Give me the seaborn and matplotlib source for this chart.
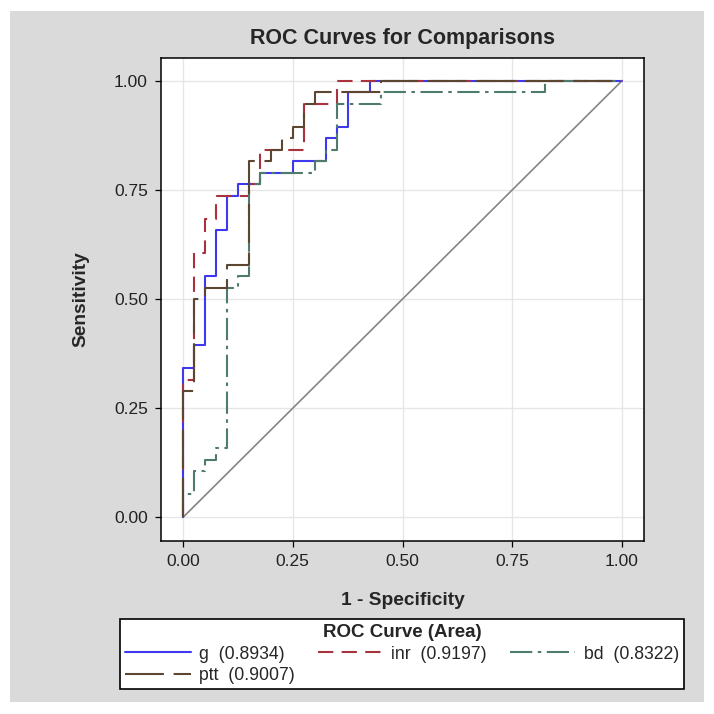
"""ROC curves for the four comparisons (g, inr, bd, ptt)"""

import matplotlib

matplotlib.use("Agg")
import matplotlib.pyplot as plt
from matplotlib.lines import Line2D
from matplotlib.patches import Rectangle
import numpy as np
import seaborn as sns

# sample sizes behind the curves
N_NEG = 40
N_POS = 38

# ROC corner points as counts (false positives, true positives), drawn as steps
G_FP = [0, 1, 2, 3, 4, 5, 7, 10, 13, 14, 15, 17, 40]
G_TP = [0, 13, 15, 21, 25, 28, 29, 30, 31, 33, 34, 37, 38]
INR_FP = [0, 1, 2, 3, 6, 7, 11, 14, 40]
INR_TP = [0, 12, 23, 26, 28, 29, 32, 36, 38]
BD_FP = [0, 1, 2, 3, 4, 5, 6, 7, 12, 13, 14, 18, 33, 40]
BD_TP = [0, 2, 4, 5, 6, 20, 21, 29, 30, 31, 32, 36, 37, 38]
PTT_FP = [0, 1, 2, 4, 6, 8, 9, 10, 11, 12, 18, 40]
PTT_TP = [0, 11, 19, 20, 22, 31, 32, 33, 34, 36, 37, 38]

NAMES = ["g", "inr", "bd", "ptt"]
AREAS = [0.8934, 0.9197, 0.8322, 0.9007]
TICKS = [0.0, 0.25, 0.5, 0.75, 1.0]

curves = {
    "g": (G_FP, G_TP),
    "inr": (INR_FP, INR_TP),
    "bd": (BD_FP, BD_TP),
    "ptt": (PTT_FP, PTT_TP),
}
styles = {
    "g": dict(color="#4038ec", linestyle="-"),
    "inr": dict(color="#a8323e", linestyle=(0, (11, 6))),
    "bd": dict(color="#4e7b6c", linestyle=(0, (16, 4, 2.5, 4))),
    "ptt": dict(color="#5c4632", linestyle=(0, (28, 7))),
}

sns.set_style("ticks")
plt.rcParams["font.family"] = ["Liberation Sans", "DejaVu Sans"]
plt.rcParams["lines.scale_dashes"] = False

fig = plt.figure(figsize=(7.14, 7.14), dpi=100, facecolor="white")
# grey graph frame behind everything
fig.add_artist(Rectangle((10 / 714, 12 / 714), 694 / 714, 691 / 714,
                         transform=fig.transFigure, facecolor="#dadada",
                         edgecolor="none", zorder=-10))
ax = fig.add_axes([161 / 714, 1 - 541 / 714, 483 / 714, 483 / 714])
ax.set_facecolor("white")

# chance diagonal
sns.lineplot(x=[0, 1], y=[0, 1], color="#858585", linewidth=1.2, ax=ax, zorder=2)

for name in NAMES:
    fp, tp = curves[name]
    sns.lineplot(
        x=np.array(fp) / N_NEG,
        y=np.array(tp) / N_POS,
        drawstyle="steps-pre",
        estimator=None,
        linewidth=1.5,
        ax=ax,
        zorder=3,
        **styles[name],
    )

ax.set_xlim(-0.05, 1.05)
ax.set_ylim(-0.054, 1.052)
ax.set_xticks(TICKS)
ax.set_yticks(TICKS)
ax.set_xticklabels([f"{t:.2f}" for t in TICKS])
ax.set_yticklabels([f"{t:.2f}" for t in TICKS])
ax.grid(True, color="#e6e6e6", linewidth=1.0, zorder=0)
ax.set_axisbelow(True)
ax.tick_params(direction="out", length=4.5, width=0.9, color="black",
               labelsize=12.5, labelcolor="#222222", pad=5)
for sp in ax.spines.values():
    sp.set_visible(True)
    sp.set_color("black")
    sp.set_linewidth(1.1)

ax.set_xlabel("1 - Specificity", fontsize=13.8, fontweight="bold")
ax.set_ylabel("Sensitivity", fontsize=13.8, fontweight="bold")
ax.xaxis.set_label_coords(0.5, -0.106)
ax.yaxis.set_label_coords(-0.148, 0.5)
ax.text(0.5, 1.040, "ROC Curves for Comparisons", transform=ax.transAxes,
        ha="center", va="center", fontsize=15.5, fontweight="bold")

# legend fills column-wise, so order entries to get g / inr / bd on row one
order = ["g", "ptt", "inr", "bd"]
handles = [Line2D([], [], linewidth=1.5, **styles[n]) for n in order]
labels = [f"{n}  ({AREAS[NAMES.index(n)]:.4f})" for n in order]
leg = fig.legend(
    handles, labels,
    loc="upper left",
    bbox_to_anchor=(120 / 714, 1 - 619 / 714),
    bbox_transform=fig.transFigure,
    ncol=3,
    title="ROC Curve (Area)",
    title_fontproperties={"weight": "bold", "size": 13.5},
    fontsize=12.7,
    frameon=True,
    fancybox=False,
    edgecolor="black",
    framealpha=1.0,
    borderaxespad=0,
    borderpad=0.3,
    handlelength=3.7,
    handletextpad=0.48,
    columnspacing=1.3,
    labelspacing=0.24,
)
leg.get_frame().set_linewidth(1.2)

fig.savefig("out.png", dpi=100, facecolor="white")
plt.close(fig)
